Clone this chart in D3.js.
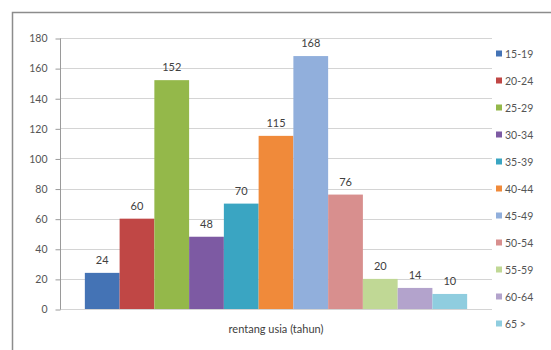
<!DOCTYPE html>
<html>
<head>
<meta charset="utf-8">
<script src="https://cdn.jsdelivr.net/npm/d3@7"></script>
<style>
  body { margin: 0; background: #fff; }
  svg { display: block; font-family: Lato, "Open Sans", sans-serif; }
</style>
</head>
<body>
<div id="chart"></div>
<script>
// data
var groups = ["15-19", "20-24", "25-29", "30-34", "35-39", "40-44", "45-49", "50-54", "55-59", "60-64", "65 >"];
var counts = [24, 60, 152, 48, 70, 115, 168, 76, 20, 14, 10];
var colors = ["#4473b5", "#c04745", "#94b84a", "#7d5aa3", "#3aa5c2", "#f08a3a",
              "#91afdc", "#d88f8e", "#c0d895", "#b3a3cc", "#8fcddf"];
var yTicks = [0, 20, 40, 60, 80, 100, 120, 140, 160, 180];
var category = "rentang usia (tahun)";

var W = 551, H = 350;
var plot = {left: 60, right: 492, top: 38, bottom: 309};

var svg = d3.select("#chart").append("svg")
    .attr("width", W)
    .attr("height", H);

// outer chart frame (cut off at the right and bottom edges)
svg.append("path")
    .attr("d", "M12.5," + (H + 2) + "V12.5H" + (W + 2))
    .attr("fill", "none")
    .attr("stroke", "#8c8c8c")
    .attr("stroke-width", 1.5);

var y = d3.scaleLinear()
    .domain([0, 180])
    .range([plot.bottom, plot.top]);

var x0 = d3.scaleBand()
    .domain([category])
    .range([plot.left, plot.right])
    .paddingInner(0)
    .paddingOuter(0.065);

var x = d3.scaleBand()
    .domain(groups)
    .range([x0(category), x0(category) + x0.bandwidth()]);

// gridlines
svg.append("g")
  .selectAll("line")
  .data(yTicks)
  .enter().append("line")
    .attr("x1", plot.left)
    .attr("x2", plot.right)
    .attr("y1", d => Math.round(y(d)) + 0.5)
    .attr("y2", d => Math.round(y(d)) + 0.5)
    .attr("stroke", "#d4d4d4");

// y axis
var yAxis = d3.axisLeft(y)
    .tickValues(yTicks)
    .tickSize(5)
    .tickPadding(8);

var gy = svg.append("g")
    .attr("transform", "translate(" + (plot.left + 0.5) + ",0.5)")
    .call(yAxis);
gy.select(".domain")
    .attr("d", "M0," + plot.top + "V" + plot.bottom)
    .attr("stroke", "#9a9a9a");
gy.selectAll(".tick line").attr("stroke", "#9a9a9a");
gy.selectAll(".tick text")
    .attr("fill", "#555")
    .style("font-size", "10.5px")
    .style("font-family", "Lato, 'Open Sans', sans-serif");

// bars
svg.append("g")
  .selectAll("rect")
  .data(groups)
  .enter().append("rect")
    .attr("x", d => x(d))
    .attr("y", (d, i) => y(counts[i]))
    .attr("width", x.bandwidth())
    .attr("height", (d, i) => y(0) - y(counts[i]))
    .attr("fill", (d, i) => colors[i]);

// value labels
svg.append("g")
  .selectAll("text")
  .data(groups)
  .enter().append("text")
    .attr("x", d => x(d) + x.bandwidth() / 2)
    .attr("y", (d, i) => y(counts[i]) - 9)
    .attr("text-anchor", "middle")
    .attr("fill", "#404040")
    .style("font-size", "11px")
    .text((d, i) => counts[i]);

// x axis title
svg.append("text")
    .attr("x", x0(category) + x0.bandwidth() / 2)
    .attr("y", 333)
    .attr("text-anchor", "middle")
    .attr("fill", "#404040")
    .style("font-size", "11px")
    .text(category);

// legend
var legend = svg.append("g")
  .selectAll("g")
  .data(groups)
  .enter().append("g")
    .attr("transform", (d, i) => "translate(496," + (54 + i * 27) + ")");

legend.append("rect")
    .attr("x", 0)
    .attr("y", -3.5)
    .attr("width", 6)
    .attr("height", 6)
    .attr("fill", (d, i) => colors[i]);

legend.append("text")
    .attr("x", 9)
    .attr("y", 0)
    .attr("dy", "0.35em")
    .attr("fill", "#555")
    .style("font-size", "10.5px")
    .text(d => d);
</script>
</body>
</html>
